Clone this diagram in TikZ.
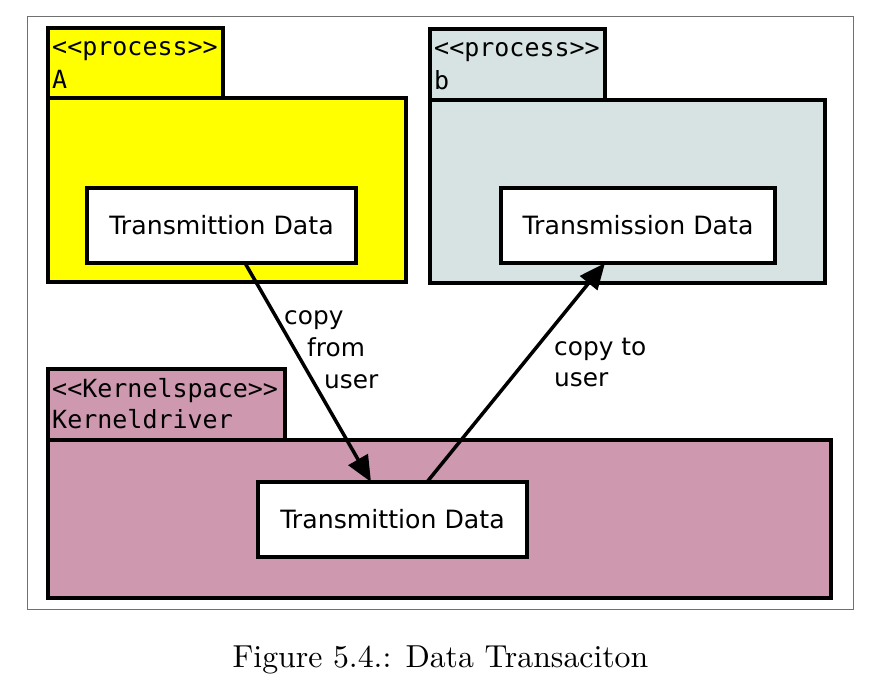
\documentclass[tikz,border=0pt]{standalone}
\usepackage{fontspec}
\newfontfamily\monof{DejaVu Sans Mono}
\newfontfamily\sansf{DejaVu Sans}
\usetikzlibrary{arrows.meta,calc}
\definecolor{afill}{HTML}{FFFF00}
\definecolor{bfill}{HTML}{D7E3E3}
\definecolor{kfill}{HTML}{CE99AF}
\definecolor{framegray}{HTML}{707070}
\tikzset{
  pkg/.style={draw=black, line width=3.5pt, inner sep=0pt, outer sep=0pt, anchor=north west},
  innerbox/.style={pkg, fill=white, font=\sansf\fontsize{25.2}{29}\selectfont},
  tabtext/.style={anchor=base west, inner sep=0pt, font=\monof\fontsize{25}{30}\selectfont},
  arrlabel/.style={anchor=base west, inner sep=0pt, font=\sansf\fontsize{24.8}{29}\selectfont},
  conn/.style={line width=3.5pt, -{Triangle[length=26pt, width=22pt]}}
}
\begin{document}
\begin{tikzpicture}[x=1pt,y=-1pt]
\useasboundingbox (0,0) rectangle (883,697);
\fill[white] (0,0) rectangle (883,697);
\node[draw=framegray, line width=1pt, inner sep=0pt, minimum width=826pt, minimum height=593pt, anchor=north west] (frame) at (26.5,16) {};

% Process A
\node[pkg, fill=afill, minimum width=358pt, minimum height=184pt] (bodyA) at (48,98) {};
\node[pkg, fill=afill, minimum width=175pt, minimum height=70pt] (tabA) at (48,28) {};
\node[tabtext] (tA1) at ($(tabA.north west)+(4,27)$) {<\kern0pt<process>\kern0pt>};
\node[tabtext] (tA2) at ($(tabA.north west)+(4,60)$) {A};
\node[innerbox, minimum width=269pt, minimum height=75pt] (inA) at (87,188) {Transmittion Data};

% Process b
\node[pkg, fill=bfill, minimum width=395pt, minimum height=183pt] (bodyB) at (430,100) {};
\node[pkg, fill=bfill, minimum width=175pt, minimum height=71pt] (tabB) at (430,29) {};
\node[tabtext] (tB1) at ($(tabB.north west)+(4,27)$) {<\kern0pt<process>\kern0pt>};
\node[tabtext] (tB2) at ($(tabB.north west)+(4,60)$) {b};
\node[innerbox, minimum width=274pt, minimum height=75pt] (inB) at (501,188) {Transmission Data};

% Kernel
\node[pkg, fill=kfill, minimum width=783pt, minimum height=158pt] (bodyK) at (48,440) {};
\node[pkg, fill=kfill, minimum width=237pt, minimum height=71pt] (tabK) at (48,369) {};
\node[tabtext] (tK1) at ($(tabK.north west)+(4,28)$) {<\kern0pt<Kernelspace>\kern0pt>};
\node[tabtext] (tK2) at ($(tabK.north west)+(4,59)$) {Kerneldriver};
\node[innerbox, minimum width=269pt, minimum height=75pt] (inK) at (258,482) {Transmittion Data};

% Connectors
\draw[conn] ($(inA.south west)+(158,0)$) -- ($(inK.north west)+(113,0)$);
\draw[conn] ($(inK.north west)+(169,0)$) -- ($(inB.south west)+(104,0)$);

% Labels
\node[arrlabel] (l1a) at (284,324) {copy};
\node[arrlabel] (l1b) at (307,356) {from};
\node[arrlabel] (l1c) at (324,388) {user};
\node[arrlabel] (l2a) at (554,355) {copy to};
\node[arrlabel] (l2b) at (554,386) {user};

% Caption
\node[font=\fontsize{10}{12}\selectfont, scale=3.18, anchor=base, inner sep=0pt] (cap) at (440.5,667) {Figure 5.4.: Data Transaciton};
\end{tikzpicture}
\end{document}
